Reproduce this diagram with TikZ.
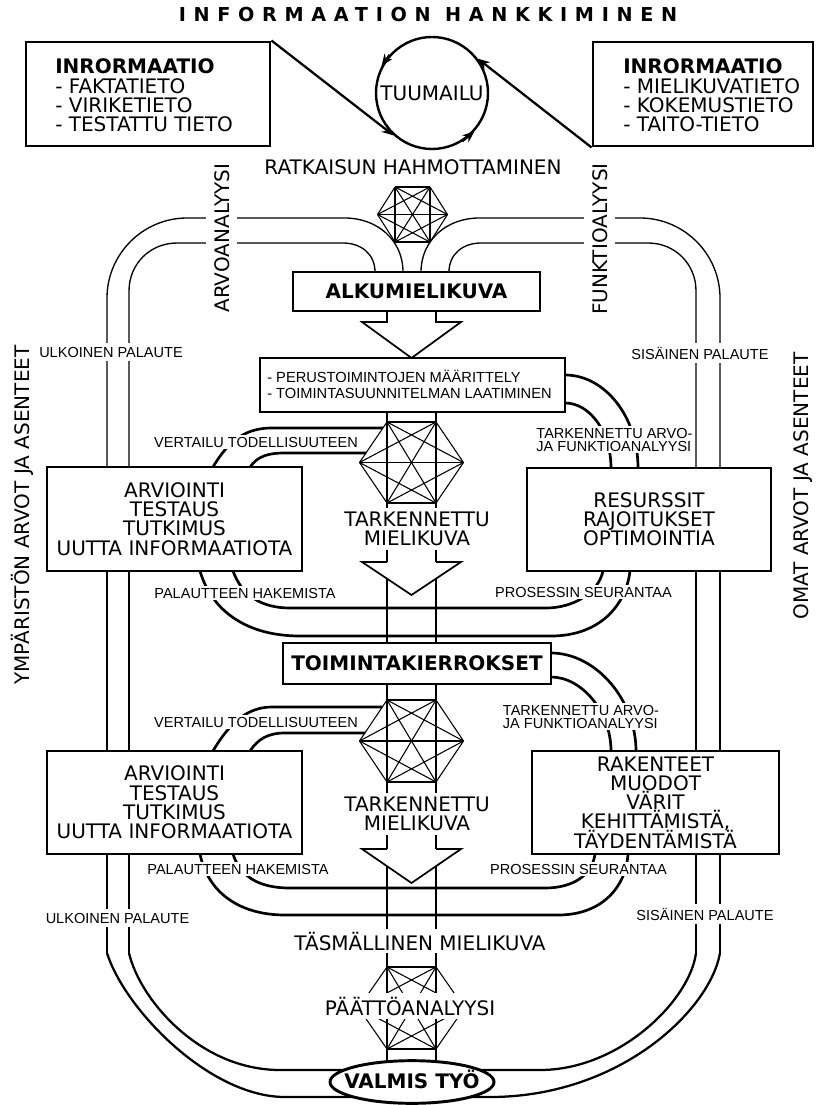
\documentclass[tikz,border=0pt]{standalone}
\usepackage{fontspec}
\setmainfont{DejaVu Sans}
\newfontfamily\labfont{Liberation Sans}
\newfontfamily\titlefont{DejaVu Sans}[LetterSpace=40]
\usetikzlibrary{arrows.meta,shapes.geometric}
\newcommand\mainsz{\fontsize{15}{14.4}\selectfont\lineskiplimit=-20pt}
\newcommand\labsz{\labfont\fontsize{10.9}{9.75}\selectfont\lineskiplimit=-20pt}
\newcommand\ksix[6]{%
  \coordinate (#1a) at ({#2-#4},{#3-#6});
  \coordinate (#1b) at ({#2+#4},{#3-#6});
  \coordinate (#1c) at ({#2+#5},{#3});
  \coordinate (#1d) at ({#2+#4},{#3+#6});
  \coordinate (#1e) at ({#2-#4},{#3+#6});
  \coordinate (#1f) at ({#2-#5},{#3});
  \foreach \p/\q in {a/b,a/c,a/d,a/e,a/f,b/c,b/d,b/e,b/f,c/d,c/e,c/f,d/e,d/f,e/f}{\draw[hexl] (#1\p) -- (#1\q);}%
}
\begin{document}
\begin{tikzpicture}[x=0.75pt,y=-0.75pt,
  box/.style={draw,line width=2.2pt,fill=white,inner sep=0pt,align=center,font=\mainsz},
  thinl/.style={line width=1pt},
  thk/.style={line width=2pt},
  botl/.style={line width=1.7pt},
  hexl/.style={line width=0.8pt},
  spine/.style={line width=2pt},
  arrl/.style={line width=1.3pt,line join=miter},
  txt/.style={font=\mainsz,inner sep=0pt},
  lab/.style={font=\labsz,fill=white,inner xsep=1pt,inner ysep=3pt},
  labb/.style={font=\labsz,fill=white,inner xsep=1pt,inner ysep=1.5pt},
  tipa/.style={-{Stealth[length=9pt,width=7pt]}},
  ]
\useasboundingbox (0,0) rectangle (836,1105);

% title
\node[font={\titlefont\bfseries\fontsize{14.4}{14.4}\selectfont},inner sep=0pt] (title) at (428,15) {INFORMAATION HANKKIMINEN};

% top boxes
\node[box,minimum width=183pt,minimum height=78pt] (lbox) at (148,94) {};
\node[txt,align=left,anchor=west] (ltxt) at (55,95.5) {\textbf{INRORMAATIO}\\- FAKTATIETO\\- VIRIKETIETO\\- TESTATTU TIETO};
\node[box,minimum width=165pt,minimum height=78pt] (rbox) at (703,94) {};
\node[txt,align=left,anchor=west] (rtxt) at (623,95.5) {\textbf{INRORMAATIO}\\- MIELIKUVATIETO\\- KOKEMUSTIETO\\- TAITO-TIETO};

% circle
\node[circle,draw,line width=1.8pt,minimum size=84pt,inner sep=0pt,font=\mainsz] (tuu) at (432,93) {TUUMAILU};
\draw[line width=1.7pt,tipa] (lbox.north east) -- (tuu.228);
\draw[line width=1.7pt,tipa] (rbox.south west) -- (tuu.37);
\draw[line width=1.5pt,tipa] (tuu.138) -- (tuu.152);
\draw[line width=1.5pt,tipa] (tuu.-58) -- (tuu.-42);

\node[txt] (ratk) at (413,167) {RATKAISUN HAHMOTTAMINEN};

% hexagrams
\ksix{h0}{412.5}{214.5}{17.5}{35}{27.5}
\ksix{h1}{411.5}{462.5}{24.5}{52}{40.5}
\ksix{h2}{411.5}{741}{24.5}{52}{41}
\ksix{h3}{411.5}{1008}{24.5}{53}{41}

% outer pipes (thin)
\draw[thinl] (403,272) .. controls (403,240) and (377,218) .. (345,218) -- (187,218) .. controls (143,218) and (107,254) .. (107,298) -- (107,467);
\draw[thinl] (375,272) .. controls (375,254) and (361,243) .. (343,243) -- (177,243) .. controls (150,243) and (129,264) .. (129,291) -- (129,467);
\draw[thinl] (421,272) .. controls (421,240) and (447,218) .. (479,218) -- (640,218) .. controls (684,218) and (720,254) .. (720,298) -- (720,468);
\draw[thinl] (449,272) .. controls (449,254) and (463,243) .. (481,243) -- (648,243) .. controls (675,243) and (696,264) .. (696,291) -- (696,468);
\draw[thinl] (107,571) -- (107,751) (129,571) -- (129,751) (696,571) -- (696,751) (720,571) -- (720,751);
\draw[thinl] (107,854) -- (107,953) (129,854) -- (129,953) (696,854) -- (696,953) (720,854) -- (720,953);
\draw[botl] (107,953) .. controls (125,1010) and (210,1097) .. (285,1097) -- (370,1097);
\draw[botl] (129,953) .. controls (140,1000) and (200,1070) .. (280,1070) -- (370,1070);
\draw[botl] (696,953) .. controls (690,1000) and (620,1070) .. (540,1070) -- (460,1070);
\draw[botl] (720,953) .. controls (710,1010) and (620,1097) .. (490,1097) -- (460,1097);

% inner loops, section 1
\draw[thk] (213,467) .. controls (230,438) and (248,428) .. (272,428) -- (382.9,428);
\draw[thk] (250,467) .. controls (258,456) and (268,453) .. (285,453) -- (366,453);
\draw[thk] (200,571) .. controls (212,612) and (248,636) .. (300,636) -- (551,636) .. controls (600,636) and (626,605) .. (630,571);
\draw[thk] (233,571) .. controls (242,596) and (262,608) .. (290,608) -- (546,608) .. controls (572,608) and (598,594) .. (603,571);
\draw[thk] (565,375) .. controls (605,375) and (638,417) .. (638,468);
\draw[thk] (565,403) .. controls (590,403) and (611,432) .. (611,468);
% inner loops, section 2
\draw[thk] (213,751) .. controls (230,722) and (248,707) .. (272,707) -- (382.3,707);
\draw[thk] (250,751) .. controls (258,739) and (268,733) .. (285,733) -- (365,733);
\draw[thk] (200,854) .. controls (208,893) and (240,915) .. (285,915) -- (558,915) .. controls (602,915) and (626,887) .. (628,854);
\draw[thk] (233,854) .. controls (240,876) and (258,888) .. (290,888) -- (545,888) .. controls (572,888) and (592,876) .. (595,854);
\draw[thk] (551,653) .. controls (596,653) and (636,700) .. (636,751);
\draw[thk] (551,677) .. controls (582,677) and (611,712) .. (611,751);

% spine and block arrows
\draw[arrl] (387,311) -- (387,322) -- (362,322) -- (411.5,358) -- (461,322) -- (436,322) -- (436,311);
\draw[spine] (387,412) -- (387,562) (436,412) -- (436,562);
\draw[arrl] (387,562) -- (362,562) -- (411.5,595) -- (461,562) -- (436,562);
\draw[spine] (387,578.5) -- (387,643) (436,578.5) -- (436,643);
\draw[spine] (387,684) -- (387,849) (436,684) -- (436,849);
\draw[arrl] (387,849) -- (362,849) -- (411.5,883) -- (461,849) -- (436,849);
\draw[spine] (387,866) -- (387,1061) (436,866) -- (436,1061);

% overlay texts
\node[txt,fill=white,inner xsep=2pt,inner ysep=3pt,align=center] (tm1) at (417,529) {TARKENNETTU\\MIELIKUVA};
\node[txt,fill=white,inner xsep=2pt,inner ysep=3pt,align=center] (tm2) at (417,814) {TARKENNETTU\\MIELIKUVA};
\node[txt,fill=white,inner xsep=2pt,inner ysep=2pt,anchor=base] (tas) at (420,950) {TÄSMÄLLINEN MIELIKUVA};
\node[txt,fill=white,inner xsep=2pt,inner ysep=2.5pt,anchor=base] (paat) at (410,1015) {PÄÄTTÖANALYYSI};

\node[txt,rotate=90,anchor=base] (ymp) at (29,515) {YMPÄRISTÖN ARVOT JA ASENTEET};
\node[txt,rotate=90,anchor=base] (omat) at (808,486) {OMAT ARVOT JA ASENTEET};
\node[txt,rotate=90,anchor=base,fill=white,inner xsep=2pt,inner ysep=6pt] (arvo) at (229,238) {ARVOANALYYSI};
\node[txt,rotate=90,anchor=base,fill=white,inner xsep=2pt,inner ysep=6pt] (funk) at (607,239) {FUNKTIOALYYSI};

\node[lab] (ulk1) at (111,352) {ULKOINEN PALAUTE};
\node[lab,anchor=base] (sis1) at (700,359) {SISÄINEN PALAUTE};
\node[lab] (ulk2) at (117.5,918) {ULKOINEN PALAUTE};
\node[lab,anchor=base] (sis2) at (705,920) {SISÄINEN PALAUTE};

\node[labb] (ver1) at (256,442) {VERTAILU TODELLISUUTEEN};
\node[labb] (pal1) at (245,593) {PALAUTTEEN HAKEMISTA};
\node[labb] (pro1) at (583.5,592) {PROSESSIN SEURANTAA};
\node[labb,align=left] (tak1) at (614.5,439.5) {TARKENNETTU ARVO-\\JA FUNKTIOANALYYSI};
\node[labb] (ver2) at (256,722) {VERTAILU TODELLISUUTEEN};
\node[labb] (pal2) at (238,869) {PALAUTTEEN HAKEMISTA};
\node[labb] (pro2) at (578.5,869) {PROSESSIN SEURANTAA};
\node[labb,align=left] (tak2) at (581,716.5) {TARKENNETTU ARVO-\\JA FUNKTIOANALYYSI};

% boxes
\node[box,minimum width=185.25pt,minimum height=29.25pt,font={\mainsz\bfseries}] (alku) at (416.5,291.5) {ALKUMIELIKUVA};
\node[box,minimum width=228.75pt,minimum height=40.5pt] (perus) at (412.5,385) {};
\node[font={\labfont\fontsize{11}{12}\selectfont},align=left,anchor=west,inner sep=0pt] (perustxt) at (267,384) {- PERUSTOIMINTOJEN MÄÄRITTELY\\- TOIMINTASUUNNITELMAN LAATIMINEN};
\node[box,minimum width=191.25pt,minimum height=78pt] (arv1) at (174.5,519) {ARVIOINTI\\TESTAUS\\TUTKIMUS\\UUTTA INFORMAATIOTA};
\node[box,minimum width=183pt,minimum height=77.25pt] (res1) at (649,519.5) {RESURSSIT\\RAJOITUKSET\\OPTIMOINTIA};
\node[box,minimum width=201pt,minimum height=30.75pt,font={\mainsz\bfseries}] (toim) at (417,663.5) {TOIMINTAKIERROKSET};
\node[box,minimum width=191.25pt,minimum height=77.25pt] (arv2) at (174.5,802.5) {ARVIOINTI\\TESTAUS\\TUTKIMUS\\UUTTA INFORMAATIOTA};
\node[box,minimum width=185.25pt,minimum height=77.25pt] (rak2) at (655.5,802.5) {RAKENTEET\\MUODOT\\VÄRIT\\KEHITTÄMISTÄ,\\TÄYDENTÄMISTÄ};
\node[ellipse,draw,line width=2.2pt,fill=white,minimum width=123pt,minimum height=32pt,inner sep=0pt] (valmis) at (412,1082) {};
\node[txt,font={\mainsz\bfseries},anchor=base] (valmistxt) at (412,1088) {VALMIS TYÖ};
\end{tikzpicture}
\end{document}
